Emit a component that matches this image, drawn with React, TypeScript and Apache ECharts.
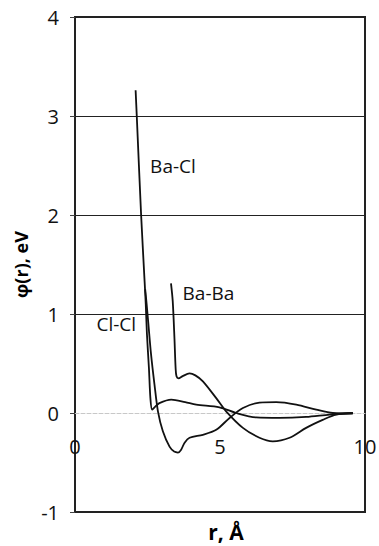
import React, { useEffect, useRef } from "react";
import * as echarts from "echarts";

const xTicks = [0, 5, 10];
const yTicks = [-1, 0, 1, 2, 3, 4];

const baClPoints: [number, number][] = [
  [2.09, 3.26], [2.13, 3.0], [2.28, 2.0], [2.4, 1.33], [2.44, 1.1], [2.48, 0.8], [2.55, 0.45],
  [2.6, 0.15], [2.66, 0.034], [2.75, 0.06], [2.91, 0.1], [3.32, 0.135], [3.8, 0.11],
  [4.18, 0.085], [4.98, 0.058], [5.56, 0.0], [6.25, -0.045], [7.05, -0.05],
  [7.97, -0.04], [8.78, -0.016], [9.58, 0],
];

const clClPoints: [number, number][] = [
  [2.42, 1.25], [2.47, 1.1], [2.53, 0.9], [2.62, 0.6], [2.74, 0.29], [2.86, 0.017], [3.03, -0.185],
  [3.26, -0.34], [3.42, -0.39], [3.55, -0.4], [3.66, -0.37], [3.78, -0.3], [3.95, -0.25],
  [4.41, -0.22], [4.87, -0.17], [5.33, -0.05], [5.79, 0.05], [6.36, 0.105], [6.94, 0.11],
  [7.63, 0.085], [8.32, 0.034], [8.89, 0.0], [9.58, -0.005],
];

const baBaPoints: [number, number][] = [
  [3.31, 1.31], [3.37, 1.13], [3.43, 0.75], [3.47, 0.45], [3.5, 0.37], [3.57, 0.35],
  [3.7, 0.37], [3.95, 0.4], [4.15, 0.38], [4.41, 0.32], [4.87, 0.15], [5.21, 0.017],
  [5.79, -0.15], [6.36, -0.25], [6.82, -0.286], [7.4, -0.25], [7.97, -0.15],
  [8.54, -0.07], [9.0, -0.016], [9.58, 0],
];

const seriesNames = ["Ba-Cl", "Cl-Cl", "Ba-Ba"];
const labelAnchors: [number, number][] = [[2.59, 2.5], [0.74, 0.9], [3.71, 1.21]];

export default function App() {
  const ref = useRef<HTMLDivElement>(null);
  useEffect(() => {
    if (!ref.current) return;
    const chart = echarts.init(ref.current, null, { renderer: "svg" });
    const datasets = [baClPoints, clClPoints, baBaPoints];
    chart.setOption({
      animation: false,
      backgroundColor: "#fff",
      grid: {
        left: 75,
        right: 14,
        top: 17,
        bottom: 34,
        containLabel: false,
        outerBoundsMode: "none",
        show: true,
        borderColor: "#222",
        borderWidth: 2,
      },
      xAxis: {
        type: "value",
        min: xTicks[0],
        max: xTicks[xTicks.length - 1],
        interval: 5,
        name: "r, Å",
        nameLocation: "middle",
        nameGap: 9,
        nameTextStyle: {
          fontFamily: "Open Sans",
          fontWeight: "bold",
          fontSize: 21,
          color: "#000",
          padding: [0, 0, 0, 12],
        },
        axisLine: { onZero: true, lineStyle: { color: "#c8c8c8", type: "dashed", width: 1 } },
        axisTick: { show: false },
        splitLine: { show: false },
        axisLabel: {
          margin: -76,
          fontFamily: "Open Sans",
          fontSize: 20,
          color: "#111",
        },
      },
      yAxis: {
        type: "value",
        min: yTicks[0],
        max: yTicks[yTicks.length - 1],
        interval: 1,
        name: "φ(r), eV",
        nameLocation: "middle",
        nameGap: 40,
        nameTextStyle: {
          fontFamily: "Open Sans",
          fontWeight: "bold",
          fontSize: 18,
          color: "#000",
        },
        axisLine: { show: false },
        axisTick: { show: true, length: 5, inside: false, lineStyle: { color: "#444" } },
        splitLine: {
          show: true,
          lineStyle: {
            color: ["#222", "rgba(0,0,0,0)", "#222", "#222", "#222", "#222"],
            width: 1,
          },
        },
        axisLabel: {
          margin: 16,
          fontFamily: "Open Sans",
          fontSize: 20,
          color: "#111",
        },
      },
      series: datasets.map((d, i) => ({
        type: "line",
        name: seriesNames[i],
        data: d,
        smooth: 0.3,
        symbol: "none",
        lineStyle: { color: "#111", width: 1.8 },
        markPoint: {
          symbol: "circle",
          symbolSize: 0,
          itemStyle: { color: "rgba(0,0,0,0)" },
          label: {
            show: true,
            position: "right",
            distance: 0,
            formatter: seriesNames[i],
            fontFamily: "Open Sans",
            fontSize: 19,
            color: "#111",
          },
          data: [{ coord: labelAnchors[i] }],
        },
      })),
    });
    return () => chart.dispose();
  }, []);
  return (
    <div
      ref={ref}
      style={{ position: "fixed", left: 0, top: 0, width: 379, height: 546 }}
    />
  );
}
